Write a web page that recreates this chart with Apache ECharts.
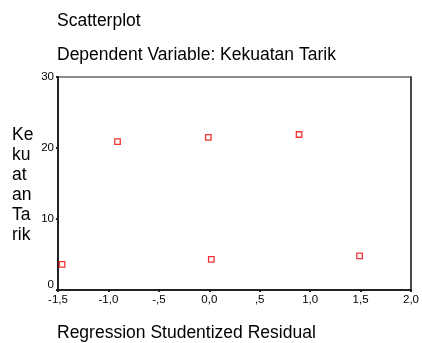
<!DOCTYPE html>
<html><head><meta charset="utf-8">
<script src="https://cdn.jsdelivr.net/npm/echarts@6/dist/echarts.min.js"></script>
<style>html,body{margin:0;padding:0;background:#fff}#c{width:422px;height:343px}</style>
</head><body><div id="c"></div>
<script>
const residuals = [-1.46, -0.91, -0.01, 0.89, 0.02, 1.49];
const kekuatan = [3.6, 20.9, 21.5, 21.9, 4.3, 4.8];
const xTicks = [-1.5, -1.0, -0.5, 0.0, 0.5, 1.0, 1.5, 2.0];
const yTicks = [0, 10, 20, 30];
const titleText = 'Scatterplot';
const subText = 'Dependent Variable: Kekuatan Tarik';
const xName = 'Regression Studentized Residual';
const yName = 'Ke\nku\nat\nan\nTa\nrik';

function fmtX(v){
  let s = Math.abs(v).toFixed(1).replace('.', ',');
  if (s.startsWith('0,') && v !== 0) s = s.substring(1);
  return (v < 0 ? '-' : '') + s;
}
const font = 'Liberation Sans, Arial, sans-serif';
const ts = {fontFamily:font, fontSize:17.5, fontWeight:'normal', color:'#000'};
const chart = echarts.init(document.getElementById('c'), null, {renderer:'canvas'});
chart.setOption({
  animation:false,
  backgroundColor:'#fff',
  title:[
    {text:titleText, left:52, top:7, textStyle:ts},
    {text:subText, left:52, top:41, textStyle:ts},
    {text:xName, left:52, top:319, textStyle:ts},
    {text:yName, left:7, top:120, textStyle:Object.assign({}, ts, {lineHeight:20})}
  ],
  grid:{left:58, top:77, width:357, height:213, show:true, borderColor:'#666', borderWidth:1.5, backgroundColor:'transparent'},
  xAxis:{type:'value', min:-1.5, max:2.0, interval:0.5,
    axisLine:{show:true, onZero:false, lineStyle:{color:'#222', width:2}},
    axisTick:{show:true, length:2, lineStyle:{color:'#222', width:2}},
    splitLine:{show:false},
    axisLabel:{formatter:fmtX, fontFamily:font, fontSize:11.5, color:'#000', margin:4}
  },
  yAxis:[{type:'value', min:0, max:30, interval:10,
    axisLine:{show:true, onZero:false, lineStyle:{color:'#222', width:2}},
    axisTick:{show:true, length:2, lineStyle:{color:'#222', width:2}},
    splitLine:{show:false},
    axisLabel:{fontFamily:font, fontSize:11.5, color:'#000', margin:4, verticalAlign:'middle',
      formatter:function(v){ return v === 0 ? '{z|0}' : String(v); },
      rich:{z:{fontFamily:font, fontSize:11.5, color:'#000', padding:[0,0,11,0]}}}
  },{type:'value', position:'right', min:0, max:30, interval:10,
    axisLine:{show:true, onZero:false, lineStyle:{color:'#333', width:1.5}},
    axisTick:{show:false}, axisLabel:{show:false}, splitLine:{show:false}}],
  series:[{type:'scatter', symbol:'rect', symbolSize:5.5,
    itemStyle:{color:'#fff', borderColor:'#e00', borderWidth:1.3},
    data: residuals.map((x,i)=>[x, kekuatan[i]])}]
});
</script></body></html>
